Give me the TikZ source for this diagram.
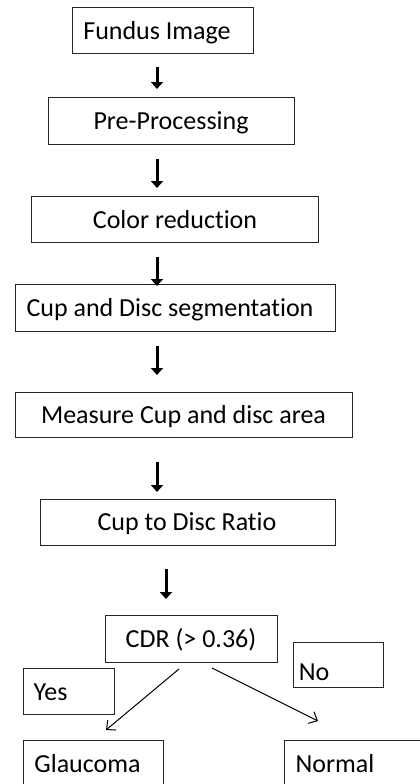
\documentclass[tikz,border=0pt]{standalone}
\usepackage{fontspec}
\setmainfont{Carlito}[Ligatures={NoCommon}]
\usetikzlibrary{arrows.meta}
\begin{document}
\begin{tikzpicture}[x=1pt,y=-1pt,
  box/.style={draw=black!85,line width=1pt,inner sep=0pt},
  txt/.style={anchor=base,inner sep=0pt,font=\fontsize{26}{31}\selectfont},
  down/.style={line width=3pt,-{Triangle[width=12pt,length=7pt]}},
  diag/.style={line width=1pt,-{Straight Barb[length=7pt,width=13pt]}}]
\useasboundingbox (0,0) rectangle (420,784);
\clip (0,0) rectangle (420,784);
% boxes
\node[box,minimum width=181pt,minimum height=46pt] (b1) at (162.5,31) {};
\node[box,minimum width=246pt,minimum height=47pt] (b2) at (171,120.5) {};
\node[box,minimum width=287pt,minimum height=46pt] (b3) at (174.5,219) {};
\node[box,minimum width=320pt,minimum height=47pt] (b4) at (175,307.5) {};
\node[box,minimum width=337pt,minimum height=45pt] (b5) at (183.5,414.5) {};
\node[box,minimum width=295pt,minimum height=46pt] (b6) at (187.5,522) {};
\node[box,minimum width=172pt,minimum height=47pt] (b7) at (191,638.5) {};
\node[box,minimum width=90pt,minimum height=45pt] (no) at (338,664.5) {};
\node[box,minimum width=91pt,minimum height=46pt] (yes) at (68.5,691) {};
\node[box,minimum width=140pt,minimum height=80pt] (gl) at (93,780) {};
\node[box,minimum width=160pt,minimum height=80pt] (nm) at (364,780) {};
% texts
\node[txt] (t1) at (157,40) {Fundus Image};
\node[txt] (t2) at (171,129) {Pre-Processing};
\node[txt] (t3) at (175,228) {Color reduction};
\node[txt] (t4) at (170,316.5) {Cup and Disc segmentation};
\node[txt] (t5) at (183.5,423) {Measure Cup and disc area};
\node[txt] (t6) at (187,530.5) {Cup to Disc Ratio};
\node[txt] (t7) at (191,647) {CDR (> 0.36)};
\node[txt] (tno) at (314,680) {No};
\node[txt] (tyes) at (50.5,700) {Yes};
\node[txt] (tgl) at (87.5,772) {Glaucoma};
\node[txt] (tnm) at (335,772) {Normal};
% arrow coordinates
\coordinate (a1s) at (157,67);  \coordinate (a1e) at (157,89);
\coordinate (a2s) at (157,159); \coordinate (a2e) at (157,188);
\coordinate (a3s) at (157,257); \coordinate (a3e) at (157,286);
\coordinate (a4s) at (157,346); \coordinate (a4e) at (157,375);
\coordinate (a5s) at (157,462); \coordinate (a5e) at (157,492);
\coordinate (a6s) at (166,569); \coordinate (a6e) at (166,599);
\coordinate (ys) at (179,669);  \coordinate (ye) at (106,730);
\coordinate (ns) at (212,668);  \coordinate (ne) at (318,721);
\draw[down] (a1s) -- (a1e);
\draw[down] (a2s) -- (a2e);
\draw[down] (a3s) -- (a3e);
\draw[down] (a4s) -- (a4e);
\draw[down] (a5s) -- (a5e);
\draw[down] (a6s) -- (a6e);
\draw[diag] (ys) -- (ye);
\draw[diag] (ns) -- (ne);
\end{tikzpicture}
\end{document}
